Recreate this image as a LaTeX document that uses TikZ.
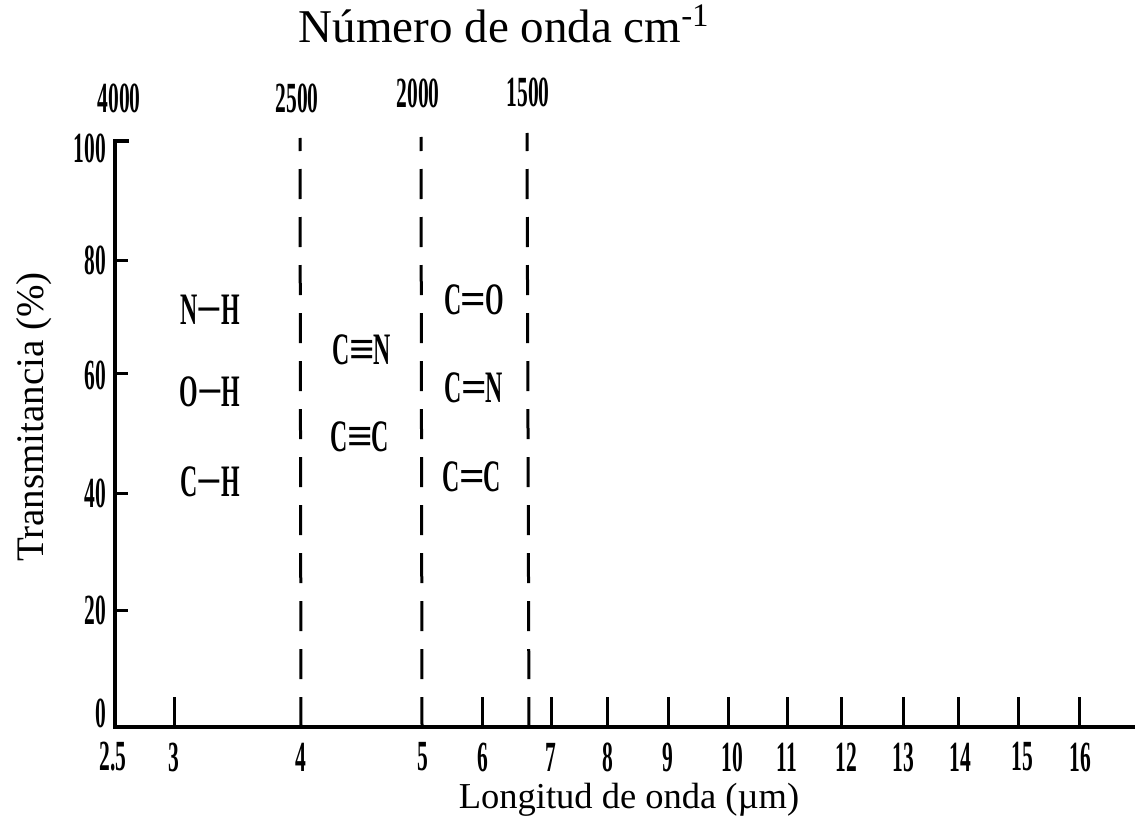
\documentclass[tikz,border=0pt]{standalone}
\usepackage{fontspec}
\setmainfont{Liberation Serif}
\usepackage{graphicx}
\newcommand{\condtxt}[1]{\scalebox{0.53}[1]{#1}}
\newcommand{\numtxt}[1]{\scalebox{0.5}[1]{#1}}
\newcommand{\bondlbl}[3]{\condtxt{#1}\hspace{-1pt}#2\hspace{-1pt}\condtxt{#3}}
\begin{document}
\begin{tikzpicture}[x=1pt,y=-1pt,
  num/.style={font=\fontsize{43}{43}\selectfont\bfseries, inner sep=0pt},
  grp/.style={font=\fontsize{45}{45}\selectfont\bfseries, inner sep=0pt},
  axisline/.style={line width=3.5pt},
  tickline/.style={line width=3pt},
  dashline/.style={line width=3pt, dash pattern=on 30pt off 18pt}
]
\useasboundingbox (0,0) rectangle (1135,840);

% axes
\coordinate (ytick100) at (129,141);
\coordinate (ytop) at (115,141);
\coordinate (origin) at (115,727);
\coordinate (xend) at (1135,727);
\draw[axisline] (ytick100) -- (ytop) -- (origin) -- (xend);

% y ticks
\foreach \yy/\ll in {260/80,373/60,493/40,610/20}{
  \coordinate (ya\ll) at (115,\yy);
  \coordinate (yb\ll) at (128,\yy);
  \draw[tickline] (ya\ll) -- (yb\ll);
}

% x ticks
\foreach \xx/\ll in {174/3,482/6,551/7,607/8,668/9,728/10,787/11,841/12,903/13,958/14,1018/15,1079/16}{
  \coordinate (xa\ll) at (\xx,727);
  \coordinate (xb\ll) at (\xx,697);
  \draw[tickline] (xa\ll) -- (xb\ll);
}

% dashed lines
\coordinate (d4bot) at (301,727); \coordinate (d4top) at (300,138);
\coordinate (d5bot) at (422,727); \coordinate (d5top) at (421,137);
\coordinate (d6bot) at (529,727); \coordinate (d6top) at (527,133);
\draw[dashline] (d4bot) -- (d4top);
\draw[dashline] (d5bot) -- (d5top);
\draw[dashline] (d6bot) -- (d6top);

% y labels
\node[num,anchor=east] (l100) at (106,148) {\numtxt{100}};
\node[num,anchor=east] (l80) at (106,260) {\numtxt{80}};
\node[num,anchor=east] (l60) at (106,375) {\numtxt{60}};
\node[num,anchor=east] (l40) at (106,493) {\numtxt{40}};
\node[num,anchor=east] (l20) at (106,610) {\numtxt{20}};
\node[num,anchor=east] (l0) at (106,713) {\numtxt{0}};

% top labels
\node[num] (w4000) at (119,98) {\numtxt{4000}};
\node[num] (w2500) at (297,98) {\numtxt{2500}};
\node[num] (w2000) at (418,93) {\numtxt{2000}};
\node[num] (w1500) at (528,92) {\numtxt{1500}};

% bottom labels
\foreach \xx/\ll in {113/2.5,174/3,301/4,423/5,483/6,551/7,608/8,668/9,732/10,787/11,846/12,903/13,960/14,1022/15,1080/16}{
  \node[num] (b\ll) at (\xx,757) {\numtxt{\ll}};
}

% group labels
\node[grp] (nh) at (210,310) {\bondlbl{N}{−}{H}};
\node[grp] (oh) at (210,392) {\bondlbl{O}{−}{H}};
\node[grp] (ch) at (210,482) {\bondlbl{C}{−}{H}};
\node[grp] (cn3) at (362,350) {\bondlbl{C}{≡}{N}};
\node[grp] (cc3) at (360,437) {\bondlbl{C}{≡}{C}};
\node[grp] (co2) at (474,300) {\bondlbl{C}{=}{O}};
\node[grp] (cn2) at (474,388) {\bondlbl{C}{=}{N}};
\node[grp] (cc2) at (472,477) {\bondlbl{C}{=}{C}};

% axis titles
\node[font=\fontsize{47}{47}\selectfont, inner sep=0pt, anchor=base] (title) at (504,43) {Número de onda cm\raisebox{0.15em}{\textsuperscript{-1}}};
\node[font=\fontsize{36.5}{36.5}\selectfont, inner sep=0pt, anchor=base] (xlabel) at (629,808) {Longitud de onda (µm)};
\node[font=\fontsize{39}{39}\selectfont, inner sep=0pt, anchor=base, rotate=90] (ylabel) at (43,417) {Transmitancia (\%)};
\end{tikzpicture}
\end{document}
